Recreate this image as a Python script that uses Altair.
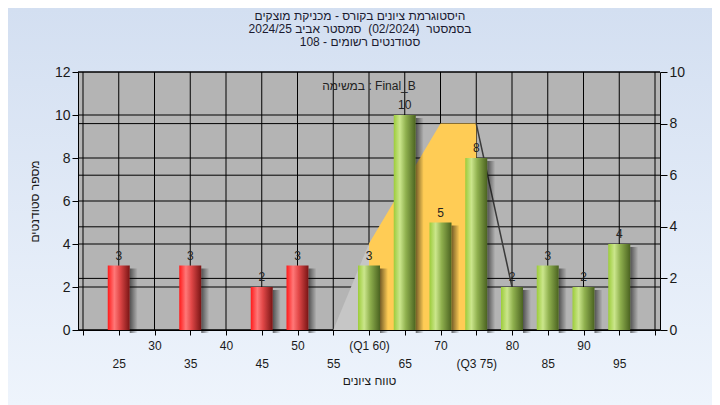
import altair as alt
import pandas as pd

# ---------------- data ----------------
BINS = [25, 35, 45, 50, 60, 65, 70, 75, 80, 85, 90, 95]
COUNTS = [3, 3, 2, 3, 3, 10, 5, 8, 2, 3, 2, 4]
PASS_FROM = 55

LOW_X = [55, 60]
LOW_Y = [0, 3.35]
IQR_X = [60, 70, 75]
IQR_Y = [3.35, 8, 8]
TAIL_X = [75, 80]
TAIL_Y = [8, 1.67]

X_TICKS = list(range(20, 105, 5))
X_LABELS = ["", "25", "30", "35", "40", "45", "50", "55", "(Q1 60)", "65", "70",
            "(Q3 75)", "80", "85", "90", "95", ""]
LEFT_TICKS = [0, 2, 4, 6, 8, 10, 12]
RIGHT_TICKS = [0, 2, 4, 6, 8, 10]

TITLE_LINES = [
    "היסטוגרמת ציונים בקורס - מכניקת מוצקים",
    "בסמסטר\u00a0 (02/2024)\u00a0 סמסטר אביב 2024/25",
    "סטודנטים רשומים - 108",
]
ANNOTATION = "במשימה : Final_B"
X_TITLE = "טווח ציונים"
Y_TITLE = "מספר סטודנטים"

# ---------------- layout ----------------
W, H = 582, 258
PAD_L, PAD_T, PAD_R, PAD_B = 70, 64, 52, 75
FONT = "Liberation Sans"
TXT = "#1a1a1a"

RLE, PDF = "\u202b", "\u202c"

bars = pd.DataFrame({"x": BINS, "y": COUNTS})
bars["pass"] = bars["x"] >= PASS_FROM
red = bars[~bars["pass"]]
green = bars[bars["pass"]]
low = pd.DataFrame({"x": LOW_X, "y": LOW_Y})
iqr = pd.DataFrame({"x": IQR_X, "y": IQR_Y})
tail = pd.DataFrame({"x": TAIL_X, "y": TAIL_Y})
vgrid = pd.DataFrame({"x": X_TICKS})
hgrid_l = pd.DataFrame({"y": LEFT_TICKS})
hgrid_r = pd.DataFrame({"y": RIGHT_TICKS})
one = pd.DataFrame({"a": [0]})

# x-axis label expression: two staggered rows
parts = []
for v, lab in zip(X_TICKS, X_LABELS):
    if lab == "":
        arr = "''"
    elif v % 10 == 0:
        arr = f"['{lab}', '']"
    else:
        arr = f"['', '{lab}']"
    parts.append(f"datum.value == {v} ? {arr} : ")
label_expr = "".join(parts) + "''"

XSCALE = alt.Scale(domain=[20, 100], nice=False, zero=False)
XAXIS = alt.Axis(values=X_TICKS, labelExpr=label_expr, grid=False, tickSize=5,
                 tickColor="black", domainColor="black", labelFontSize=12,
                 labelFont=FONT, labelColor=TXT, labelLineHeight=18,
                 labelPadding=5, labelOverlap=False, labelFlush=False,
                 labelBound=False, title=X_TITLE, titleFont=FONT,
                 titleFontSize=12, titleFontWeight="normal", titleColor=TXT,
                 titlePadding=6, zindex=1)

LSCALE = alt.Scale(domain=[0, 12], nice=False)
RSCALE = alt.Scale(domain=[0, 10], nice=False)
LAXIS = alt.Axis(values=LEFT_TICKS, grid=False, tickSize=6, tickColor="black",
                 domainColor="black", labelFontSize=14, labelFont=FONT,
                 labelColor=TXT, labelPadding=2, title=Y_TITLE, titleFont=FONT,
                 titleFontSize=12, titleFontWeight="normal", titleColor=TXT,
                 titlePadding=13, zindex=1)
RAXIS = alt.Axis(values=RIGHT_TICKS, orient="right", grid=False, tickSize=7,
                 tickColor="black", domainColor="black", labelFontSize=14,
                 labelFont=FONT, labelColor=TXT, labelPadding=2, title=None,
                 zindex=1)


def X(field="x"):
    return alt.X(f"{field}:Q", scale=XSCALE, axis=XAXIS)


def YL(axis=None):
    return alt.Y("y:Q", scale=LSCALE, axis=axis)


def YR(axis=None):
    return alt.Y("y:Q", scale=RSCALE, axis=axis)


def grad(stops, vertical=False):
    return alt.Gradient(
        gradient="linear",
        stops=[alt.GradientStop(color=c, offset=o) for o, c in stops],
        x1=0, x2=0 if vertical else 1, y1=0, y2=1 if vertical else 0,
    )


bg = alt.Chart(one).mark_rect(
    color=grad([(0, "#d3dff1"), (1, "#eef4fc")], vertical=True)
).encode(x=alt.value(-PAD_L), x2=alt.value(W + PAD_R),
         y=alt.value(-PAD_T), y2=alt.value(H + PAD_B))

plot_bg = alt.Chart(one).mark_rect(color="#b4b4b4").encode(
    x=alt.value(0), x2=alt.value(W), y=alt.value(0), y2=alt.value(H))

vg = alt.Chart(vgrid).mark_rule(color="black", strokeWidth=1).encode(
    x=X(), y=alt.value(0), y2=alt.value(H))
hgl = alt.Chart(hgrid_l).mark_rule(color="black", strokeWidth=1).encode(
    y=YL(), x=alt.value(0), x2=alt.value(W))
hgr = alt.Chart(hgrid_r).mark_rule(color="black", strokeWidth=1).encode(
    y=YR(), x=alt.value(0), x2=alt.value(W))

area_gray = alt.Chart(low).mark_area(color="#c6c6c6").encode(
    x=X(), y=YR(RAXIS))
area_yellow = alt.Chart(iqr).mark_area(color="#ffcc55").encode(x=X(), y=YR())
tail_line = alt.Chart(tail).mark_line(color="#3a3a3a", strokeWidth=1.5).encode(
    x=X(), y=YR())

shadow = alt.Chart(bars).mark_bar(
    size=8, xOffset=15, yOffset=3,
    color=grad([(0, "rgba(0,0,0,0.55)"), (1, "rgba(0,0,0,0)")]),
).encode(x=X(), y=YL())

red_bars = alt.Chart(red).mark_bar(
    size=22,
    color=grad([(0, "#ff1a1a"), (0.3, "#ff7878"), (0.55, "#e24848"),
                (1, "#781414")]),
).encode(x=X(), y=YL(LAXIS))

green_bars = alt.Chart(green).mark_bar(
    size=22,
    color=grad([(0, "#9ccc3a"), (0.28, "#cbe68c"), (0.55, "#8fb04e"),
                (1, "#4a6220")]),
).encode(x=X(), y=YL())

labels = alt.Chart(bars).mark_text(
    font=FONT, fontSize=12, color="#222222", baseline="alphabetic", dy=-6
).encode(x=X(), y=YL(), text=alt.Text("y:Q"))

annotation = alt.Chart(one).mark_text(
    text=ANNOTATION, font=FONT, fontSize=12, color="#222222",
    baseline="middle", align="center", x=W / 2, y=14)

title = alt.Chart(one).mark_text(
    text=[RLE + t + PDF for t in TITLE_LINES], font=FONT, fontSize=12,
    color="#1a1a30", baseline="top", align="center", lineHeight=13,
    x=282, y=-61)

chart = alt.layer(
    bg, plot_bg, vg, hgl, hgr, area_gray, area_yellow, tail_line,
    shadow, red_bars, green_bars, labels, annotation, title,
).resolve_scale(y="independent").properties(
    width=W, height=H,
    autosize=alt.AutoSizeParams(type="none"),
    padding={"left": PAD_L, "top": PAD_T, "right": PAD_R, "bottom": PAD_B},
).configure_view(stroke="transparent")

chart.save("out.html", embed_options={"renderer": "svg", "actions": False})
